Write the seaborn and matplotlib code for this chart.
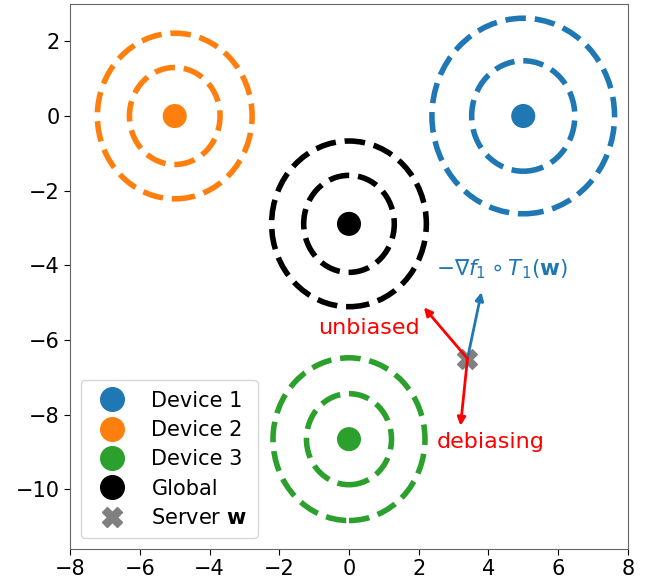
import numpy as np
import pandas as pd
import matplotlib
matplotlib.use("Agg")
import matplotlib.pyplot as plt
import seaborn as sns
from matplotlib.patches import Circle

# device / global optima
names = ["Device 1", "Device 2", "Device 3", "Global"]
center_x = [5.0, -5.0, 0.0, 0.0]
center_y = [0.0, 0.0, -8.66, -2.89]
colors = ["#1f77b4", "#ff7f0e", "#2ca02c", "black"]
inner_r = [1.48, 1.3, 1.22, 1.3]
outer_r = [2.62, 2.22, 2.18, 2.22]

# server point and update directions
server = (3.4, -6.5)
grad_tip = (3.8, -4.72)
unbiased_tip = (2.15, -5.13)
debias_tip = (3.2, -8.3)

sns.set_style("white")
plt.rcParams["font.family"] = ["DejaVu Sans"]
plt.rcParams["text.color"] = "black"
plt.rcParams["xtick.color"] = "black"
plt.rcParams["ytick.color"] = "black"

fig = plt.figure(figsize=(6.56, 5.79), dpi=100)
ax = fig.add_axes([0.107, 0.052, 0.85, 0.941])

df = pd.DataFrame({"x": center_x, "y": center_y, "name": names})
sns.scatterplot(data=df, x="x", y="y", hue="name", palette=colors,
                s=300, edgecolor="none", ax=ax, legend=False, zorder=3)

for cx, cy, c, r1, r2 in zip(center_x, center_y, colors, inner_r, outer_r):
    for r in (r1, r2):
        ax.add_patch(Circle((cx, cy), r, fill=False, ls="--", lw=4, color=c))

ax.scatter([server[0]], [server[1]], marker="X", s=200, color="gray", zorder=2)

ax.annotate("", xy=grad_tip, xytext=server,
            arrowprops=dict(arrowstyle="-|>", color="#1f77b4", lw=2, mutation_scale=12, shrinkA=0, shrinkB=0))
ax.annotate("", xy=unbiased_tip, xytext=server,
            arrowprops=dict(arrowstyle="-|>", color="red", lw=2, mutation_scale=12, shrinkA=0, shrinkB=0))
ax.annotate("", xy=debias_tip, xytext=server,
            arrowprops=dict(arrowstyle="-|>", color="red", lw=2, mutation_scale=12, shrinkA=0, shrinkB=0))

ax.text(2.5, -4.1, r"$-\nabla f_1 \circ T_1(\mathbf{w})$", color="#1f77b4", fontsize=15.5, va="center")
ax.text(-0.88, -5.67, "unbiased", color="red", fontsize=16, va="center")
ax.text(2.53, -8.74, "debiasing", color="red", fontsize=16, va="center")

# legend handles
handles = [plt.Line2D([], [], ls="", marker="o", ms=17, color=c) for c in colors]
handles.append(plt.Line2D([], [], ls="", marker="X", ms=15, color="gray"))
labels = names + [r"Server $\mathbf{w}$"]
ax.legend(handles, labels, loc="lower left", fontsize=15, handletextpad=0.9,
          labelspacing=0.45, borderpad=0.5)

ax.set_xlim(-8, 8)
ax.set_ylim(-11.6, 3.0)
ax.set_xticks(np.arange(-8, 9, 2))
ax.set_yticks(np.arange(-10, 3, 2))
ax.tick_params(labelsize=15, left=True, bottom=True, length=4)
ax.set_xlabel("")
ax.set_ylabel("")
for s in ax.spines.values():
    s.set_color("#666666")

fig.savefig("out.png", dpi=100)
